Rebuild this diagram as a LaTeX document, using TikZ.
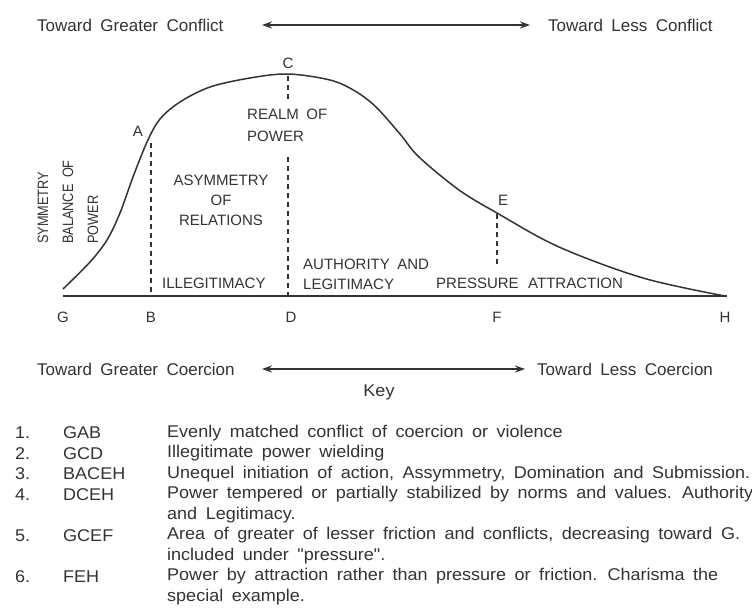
\documentclass[tikz,border=0pt]{standalone}
\usepackage{fontspec}
\setmainfont{Liberation Sans}[WordSpace=1.8]
\newfontfamily\keyfont{Liberation Sans}[WordSpace=1.7, FakeStretch=1.06]
\usetikzlibrary{arrows.meta}
\begin{document}
\begin{tikzpicture}[x=1pt, y=-1pt,
  ink/.style={text=black!80, inner sep=0pt},
  lbl/.style={ink, font=\fontsize{15}{20}\selectfont},
  big/.style={ink, anchor=west, font=\fontsize{17}{20}\selectfont},
  keytxt/.style={ink, anchor=west, font=\keyfont\fontsize{17}{20}\selectfont},
  dashline/.style={draw=black!80, line width=1.6pt, dash pattern=on 5pt off 4pt},
  solidline/.style={draw=black!80, line width=1.5pt},
  biarrow/.style={draw=black!80, line width=1.3pt, {Stealth[length=10pt,width=7pt]}-{Stealth[length=10pt,width=7pt]}}]
\useasboundingbox (0,0) rectangle (752,608);
\fill[white] (0,0) rectangle (752,608);
% top scale
\node[big] (tgc) at (37,25) {Toward Greater Conflict};
\node[big] (tlc) at (548,25) {Toward Less Conflict};
\coordinate (ta) at (262,25);
\coordinate (tb) at (530,25);
\draw [biarrow] (ta) -- (tb);
% points of the curve
\coordinate (G) at (63,296);
\coordinate (B) at (151,296);
\coordinate (D) at (288,296);
\coordinate (F) at (497,296);
\coordinate (H) at (727,296);
\coordinate (A) at (151,143);
\coordinate (C) at (288,76);
\coordinate (c1) at (288,99);
\coordinate (c2) at (288,157);
\coordinate (E) at (497,214);
\coordinate (e1) at (497,265);
\path [solidline] (G) edge (H);
\path [solidline] plot[smooth, tension=0.55] coordinates {(63,289) (90,262) (107,240) (120,213) (133,177) (147,142) (160,119) (180,102) (210,87) (250,78) (288,74) (330,80) (355,91) (376,107) (400,134) (419,157) (459,190) (497,213) (559,247) (643,278) (725,296)};
\path [dashline] (A) edge (B);
\path [dashline] (C) edge (c1);
\path [dashline] (c2) edge (D);
\path [dashline] (E) edge (e1);
% letters
\node[lbl] (lA) at (138,131) {A};
\node[lbl] (lC) at (288,63) {C};
\node[lbl] (lE) at (503,200) {E};
\node[lbl] (lG) at (63,317) {G};
\node[lbl] (lB) at (151,317) {B};
\node[lbl] (lD) at (291,317) {D};
\node[lbl] (lF) at (497,317) {F};
\node[lbl] (lH) at (725,317) {H};
% areas
\node[lbl, rotate=90, xscale=0.85, anchor=west, align=left, font=\fontsize{15}{25}\selectfont] (sym) at (68,244) {SYMMETRY\\BALANCE OF\\POWER};
\node[lbl, align=left, anchor=north west, font=\fontsize{15}{22}\selectfont] (realm) at (247,109) {REALM OF\\POWER};
\node[lbl, align=center, anchor=north] (asym) at (221,175) {ASYMMETRY\\OF\\RELATIONS};
\node[lbl, anchor=west] (illeg) at (162,283) {ILLEGITIMACY};
\node[lbl, align=left, anchor=south west] (auth) at (303,290) {AUTHORITY AND\\LEGITIMACY};
\node[lbl, anchor=west] (press) at (436,283) {PRESSURE};
\node[lbl, anchor=west] (attr) at (528,283) {ATTRACTION};
% bottom scale
\node[big] (tgco) at (37,369) {Toward Greater Coercion};
\node[big] (tlco) at (537,369) {Toward Less Coercion};
\coordinate (ba) at (262,369);
\coordinate (bb) at (525,369);
\draw [biarrow] (ba) -- (bb);
\node[ink, font=\keyfont\fontsize{17}{20}\selectfont] (key) at (379,392) {Key};
% key list
\foreach \y/\nr/\code/\desc [count=\i] in {
  433/1./GAB/{Evenly matched conflict of coercion or violence},
  453.5/2./GCD/{Illegitimate power wielding},
  474/3./BACEH/{Unequel initiation of action, Assymmetry, Domination and Submission.},
  494.5/4./DCEH/{Power tempered or partially stabilized by norms and values. Authority},
  535.5/5./GCEF/{Area of greater of lesser friction and conflicts, decreasing toward G.},
  576.5/6./FEH/{Power by attraction rather than pressure or friction. Charisma the}}
{
  \node[keytxt] (nr\i) at (15,\y) {\nr};
  \node[keytxt] (code\i) at (63,\y) {\code};
  \node[keytxt] (desc\i) at (167,\y) {\desc};
}
\node[keytxt] (more4) at (167,515) {and Legitimacy.};
\node[keytxt] (more5) at (167,556) {included under "pressure".};
\node[keytxt] (more6) at (167,597) {special example.};
\end{tikzpicture}
\end{document}
